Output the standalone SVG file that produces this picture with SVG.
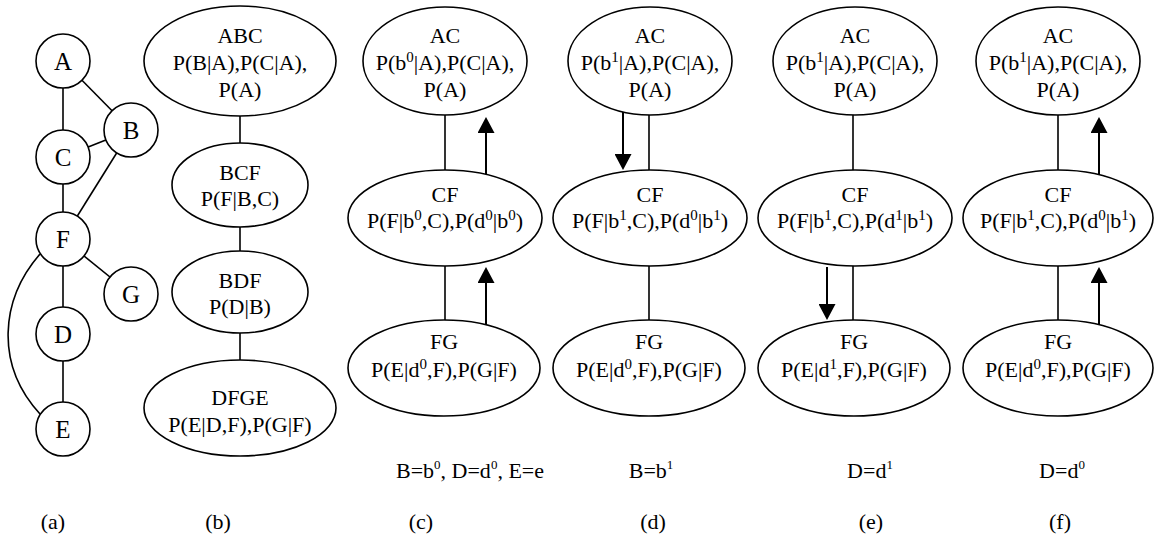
<svg xmlns="http://www.w3.org/2000/svg" width="1154" height="541" viewBox="0 0 1154 541">
  <style>
    .t { font-size: 22px; text-anchor: middle; }
    .v { font-size: 25px; text-anchor: middle; }
    .sup { font-size: 15px; }
    .lsup { font-size: 13px; }
    .shape { fill: #fff; stroke: #000; stroke-width: 1.6; }
    .edge { fill: none; stroke: #000; stroke-width: 1.6; }
    .arrow { fill: none; stroke: #000; stroke-width: 2; marker-end: url(#head); }
  </style>
  <defs>
    <marker id="head" viewBox="0 0 16 17" refX="2" refY="8.5" markerWidth="16" markerHeight="17" markerUnits="userSpaceOnUse" orient="auto">
      <path d="M0,0 L16,8.5 L0,17 Z" fill="#000"/>
    </marker>
  </defs>
  <rect width="1154" height="541" fill="#fff"/>

  <g font-family="Liberation Serif" fill="#000">
  <!-- (a) moral graph: edges -->
  <g id="graph-edges">
    <line class="edge" x1="63" y1="61" x2="63" y2="157"/>
    <line class="edge" x1="63" y1="61" x2="131" y2="130"/>
    <line class="edge" x1="63" y1="157" x2="131" y2="130"/>
    <line class="edge" x1="131" y1="130" x2="63" y2="239"/>
    <line class="edge" x1="63" y1="157" x2="63" y2="239"/>
    <line class="edge" x1="63" y1="239" x2="131" y2="294"/>
    <line class="edge" x1="63" y1="239" x2="63" y2="334"/>
    <line class="edge" x1="63" y1="334" x2="63" y2="429"/>
    <path class="edge" d="M40,254 C0,300 -5,365 40,414"/>
  </g>
  <!-- (a) moral graph: variables -->
  <g id="var-A"><circle class="shape" cx="63" cy="61" r="27"/><text class="v" x="63" y="70">A</text></g>
  <g id="var-B"><circle class="shape" cx="131" cy="130" r="27"/><text class="v" x="131" y="139">B</text></g>
  <g id="var-C"><circle class="shape" cx="63" cy="157" r="27"/><text class="v" x="63" y="166">C</text></g>
  <g id="var-F"><circle class="shape" cx="63" cy="239" r="27"/><text class="v" x="63" y="248">F</text></g>
  <g id="var-G"><circle class="shape" cx="131" cy="294" r="27"/><text class="v" x="131" y="303">G</text></g>
  <g id="var-D"><circle class="shape" cx="63" cy="334" r="27"/><text class="v" x="63" y="343">D</text></g>
  <g id="var-E"><circle class="shape" cx="63" cy="429" r="27"/><text class="v" x="63" y="438">E</text></g>

  <!-- connectors of the clique trees and message arrows -->
  <g id="connectors">
    <line class="edge" x1="240" y1="116" x2="240" y2="143"/>
    <line class="edge" x1="240" y1="227" x2="240" y2="251"/>
    <line class="edge" x1="240" y1="333" x2="240" y2="360"/>

    <line class="edge" x1="445" y1="115" x2="445" y2="170"/>
    <line class="edge" x1="445" y1="266" x2="445" y2="320"/>
    <line class="arrow" x1="486" y1="174" x2="486" y2="131"/>
    <line class="arrow" x1="486" y1="325" x2="486" y2="281"/>

    <line class="edge" x1="649" y1="115" x2="649" y2="170"/>
    <line class="edge" x1="649" y1="266" x2="649" y2="320"/>
    <line class="arrow" x1="623" y1="112" x2="623" y2="156"/>

    <line class="edge" x1="853" y1="115" x2="853" y2="170"/>
    <line class="edge" x1="853" y1="266" x2="853" y2="320"/>
    <line class="arrow" x1="827" y1="267" x2="827" y2="306"/>

    <line class="edge" x1="1058" y1="115" x2="1058" y2="170"/>
    <line class="edge" x1="1058" y1="266" x2="1058" y2="320"/>
    <line class="arrow" x1="1099" y1="174" x2="1099" y2="131"/>
    <line class="arrow" x1="1099" y1="325" x2="1099" y2="281"/>
  </g>

  <!-- (b) clique tree -->
  <g id="clique-ABC">
    <ellipse class="shape" cx="240" cy="61" rx="96" ry="55"/>
    <text class="t" x="240" y="43">ABC</text>
    <text class="t" x="240" y="70">P(B|A),P(C|A),</text>
    <text class="t" x="240" y="97">P(A)</text>
  </g>
  <g id="clique-BCF">
    <ellipse class="shape" cx="240" cy="185" rx="68" ry="42"/>
    <text class="t" x="240" y="180">BCF</text>
    <text class="t" x="240" y="206">P(F|B,C)</text>
  </g>
  <g id="clique-BDF">
    <ellipse class="shape" cx="240" cy="292" rx="68" ry="41"/>
    <text class="t" x="240" y="288">BDF</text>
    <text class="t" x="240" y="314">P(D|B)</text>
  </g>
  <g id="clique-DFGE">
    <ellipse class="shape" cx="240" cy="408" rx="96" ry="48"/>
    <text class="t" x="240" y="405">DFGE</text>
    <text class="t" x="240" y="432">P(E|D,F),P(G|F)</text>
  </g>

  <!-- (c) B=b0, D=d0 -->
  <g id="c-AC">
    <ellipse class="shape" cx="445" cy="61" rx="82" ry="54"/>
    <text class="t" x="445" y="43">AC</text>
    <text class="t" x="445" y="70">P(b<tspan class="sup" dy="-8">0</tspan><tspan dy="8">|A),P(C|A),</tspan></text>
    <text class="t" x="445" y="97">P(A)</text>
  </g>
  <g id="c-CF">
    <ellipse class="shape" cx="445" cy="218" rx="97" ry="48"/>
    <text class="t" x="445" y="202">CF</text>
    <text class="t" x="445" y="228">P(F|b<tspan class="sup" dy="-8">0</tspan><tspan dy="8">,C),P(d</tspan><tspan class="sup" dy="-8">0</tspan><tspan dy="8">|b</tspan><tspan class="sup" dy="-8">0</tspan><tspan dy="8">)</tspan></text>
  </g>
  <g id="c-FG">
    <ellipse class="shape" cx="444" cy="368" rx="96" ry="48"/>
    <text class="t" x="444" y="349">FG</text>
    <text class="t" x="444" y="377">P(E|d<tspan class="sup" dy="-8">0</tspan><tspan dy="8">,F),P(G|F)</tspan></text>
  </g>

  <!-- (d) B=b1 -->
  <g id="d-AC">
    <ellipse class="shape" cx="650" cy="61" rx="82" ry="54"/>
    <text class="t" x="650" y="43">AC</text>
    <text class="t" x="650" y="70">P(b<tspan class="sup" dy="-8">1</tspan><tspan dy="8">|A),P(C|A),</tspan></text>
    <text class="t" x="650" y="97">P(A)</text>
  </g>
  <g id="d-CF">
    <ellipse class="shape" cx="650" cy="218" rx="97" ry="48"/>
    <text class="t" x="650" y="202">CF</text>
    <text class="t" x="650" y="228">P(F|b<tspan class="sup" dy="-8">1</tspan><tspan dy="8">,C),P(d</tspan><tspan class="sup" dy="-8">0</tspan><tspan dy="8">|b</tspan><tspan class="sup" dy="-8">1</tspan><tspan dy="8">)</tspan></text>
  </g>
  <g id="d-FG">
    <ellipse class="shape" cx="649" cy="368" rx="96" ry="48"/>
    <text class="t" x="649" y="349">FG</text>
    <text class="t" x="649" y="377">P(E|d<tspan class="sup" dy="-8">0</tspan><tspan dy="8">,F),P(G|F)</tspan></text>
  </g>

  <!-- (e) D=d1 -->
  <g id="e-AC">
    <ellipse class="shape" cx="855" cy="61" rx="82" ry="54"/>
    <text class="t" x="855" y="43">AC</text>
    <text class="t" x="855" y="70">P(b<tspan class="sup" dy="-8">1</tspan><tspan dy="8">|A),P(C|A),</tspan></text>
    <text class="t" x="855" y="97">P(A)</text>
  </g>
  <g id="e-CF">
    <ellipse class="shape" cx="855" cy="218" rx="97" ry="48"/>
    <text class="t" x="855" y="202">CF</text>
    <text class="t" x="855" y="228">P(F|b<tspan class="sup" dy="-8">1</tspan><tspan dy="8">,C),P(d</tspan><tspan class="sup" dy="-8">1</tspan><tspan dy="8">|b</tspan><tspan class="sup" dy="-8">1</tspan><tspan dy="8">)</tspan></text>
  </g>
  <g id="e-FG">
    <ellipse class="shape" cx="854" cy="368" rx="96" ry="48"/>
    <text class="t" x="854" y="349">FG</text>
    <text class="t" x="854" y="377">P(E|d<tspan class="sup" dy="-8">1</tspan><tspan dy="8">,F),P(G|F)</tspan></text>
  </g>

  <!-- (f) D=d0 -->
  <g id="f-AC">
    <ellipse class="shape" cx="1058" cy="61" rx="82" ry="54"/>
    <text class="t" x="1058" y="43">AC</text>
    <text class="t" x="1058" y="70">P(b<tspan class="sup" dy="-8">1</tspan><tspan dy="8">|A),P(C|A),</tspan></text>
    <text class="t" x="1058" y="97">P(A)</text>
  </g>
  <g id="f-CF">
    <ellipse class="shape" cx="1058" cy="218" rx="95" ry="48"/>
    <text class="t" x="1058" y="202">CF</text>
    <text class="t" x="1058" y="228">P(F|b<tspan class="sup" dy="-8">1</tspan><tspan dy="8">,C),P(d</tspan><tspan class="sup" dy="-8">0</tspan><tspan dy="8">|b</tspan><tspan class="sup" dy="-8">1</tspan><tspan dy="8">)</tspan></text>
  </g>
  <g id="f-FG">
    <ellipse class="shape" cx="1058" cy="368" rx="95" ry="48"/>
    <text class="t" x="1058" y="349">FG</text>
    <text class="t" x="1058" y="377">P(E|d<tspan class="sup" dy="-8">0</tspan><tspan dy="8">,F),P(G|F)</tspan></text>
  </g>

  <!-- evidence captions -->
  <g id="evidence">
    <text class="t" x="470" y="478">B=b<tspan class="lsup" dy="-9">0</tspan><tspan dy="9">, D=d</tspan><tspan class="lsup" dy="-9">0</tspan><tspan dy="9">, E=e</tspan></text>
    <text class="t" x="651" y="478">B=b<tspan class="lsup" dy="-9">1</tspan></text>
    <text class="t" x="870" y="478">D=d<tspan class="lsup" dy="-9">1</tspan></text>
    <text class="t" x="1062" y="478">D=d<tspan class="lsup" dy="-9">0</tspan></text>
  </g>

  <!-- panel captions -->
  <g id="panel-labels">
    <text class="t" x="53" y="529">(a)</text>
    <text class="t" x="218" y="529">(b)</text>
    <text class="t" x="421" y="529">(c)</text>
    <text class="t" x="653" y="529">(d)</text>
    <text class="t" x="871" y="529">(e)</text>
    <text class="t" x="1060" y="529">(f)</text>
  </g>
  </g>
</svg>
